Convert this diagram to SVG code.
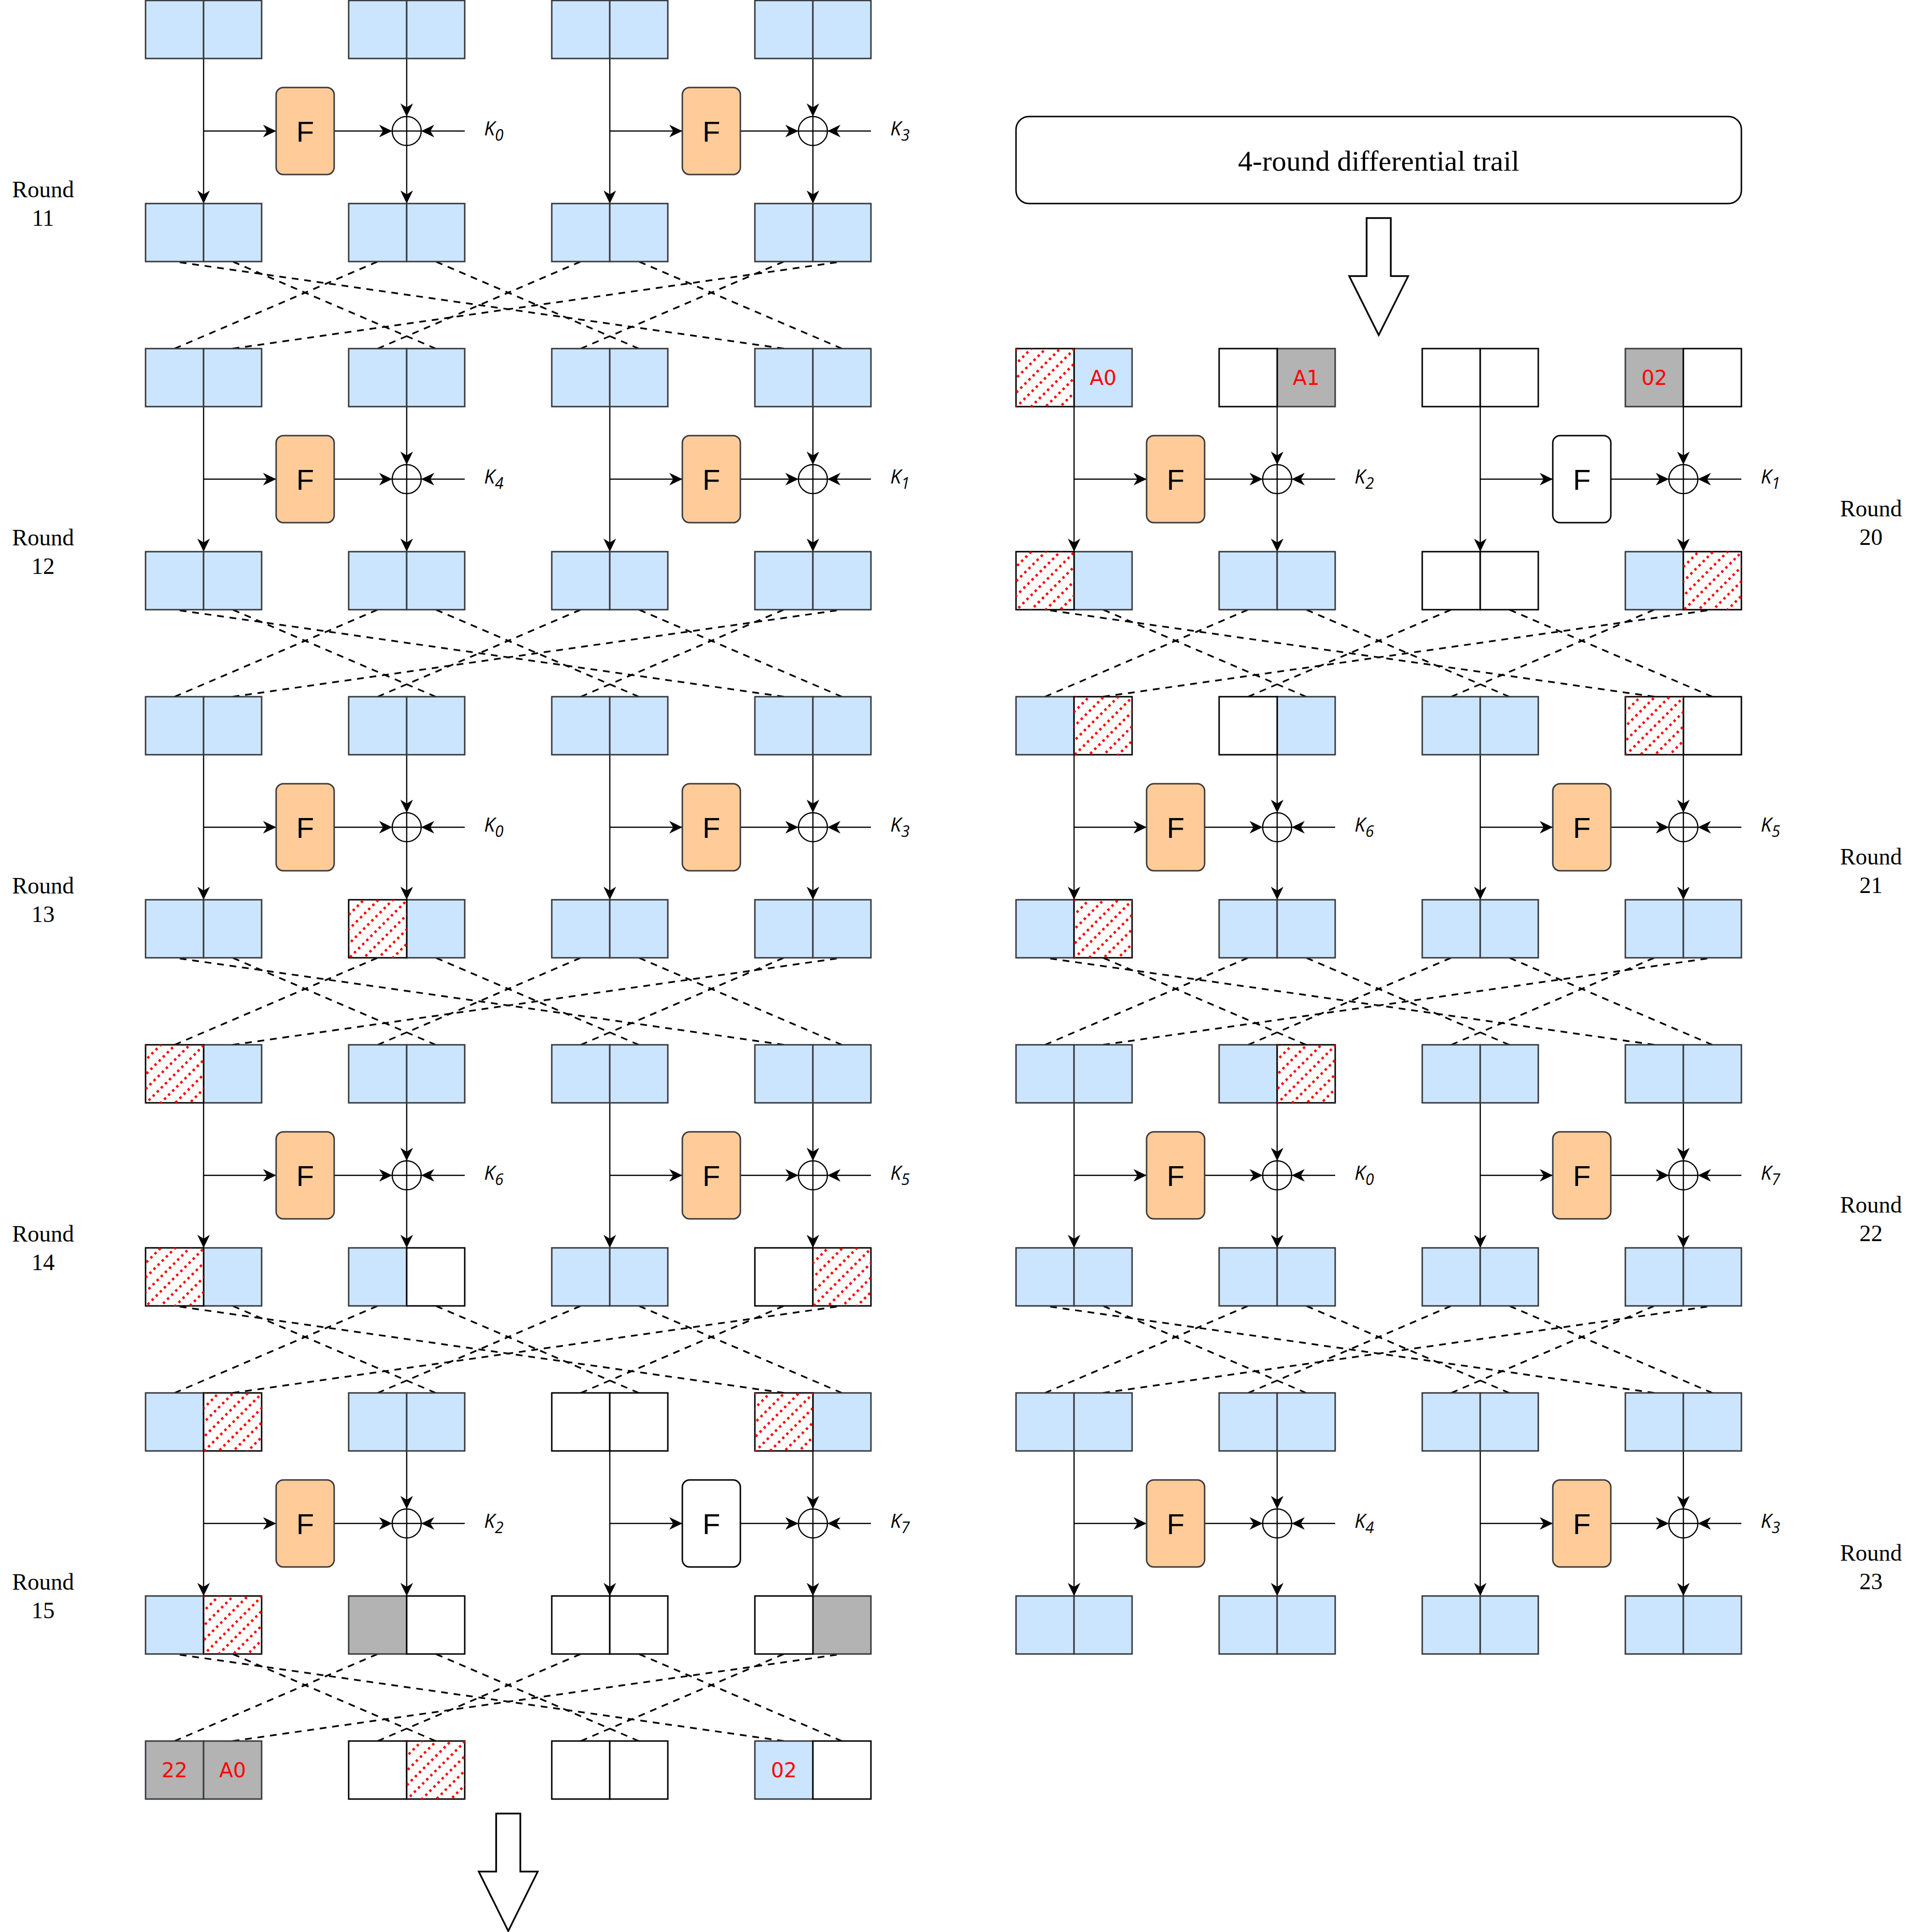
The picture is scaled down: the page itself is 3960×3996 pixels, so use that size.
<svg xmlns="http://www.w3.org/2000/svg" width="3960" height="3996" viewBox="0 0 3960 3996">
<style>
.b{fill:#cce5ff;stroke:#36393d;stroke-width:3}
.w{fill:#fff;stroke:#000;stroke-width:3}
.g{fill:#b3b3b3;stroke:#36393d;stroke-width:3}
.hp{fill:url(#hatch);stroke:none}
.fo{fill:#ffcc99;stroke:#36393d;stroke-width:3}
.fw{fill:#fff;stroke:#000;stroke-width:3}
.ft{font-family:"Liberation Sans",Arial,sans-serif;font-size:60px;text-anchor:middle;fill:#000}
.lbl{font-family:"DejaVu Sans",sans-serif;font-size:42px;fill:#ff0000;text-anchor:middle}
.k{font-family:"Open Sans","DejaVu Sans",sans-serif;font-style:italic;font-size:40px;fill:#000}
.s{font-size:32px}
.rl{font-family:"Liberation Serif","Times New Roman",serif;font-size:48px;text-anchor:middle;fill:#000}
.tt{font-family:"Liberation Serif","Times New Roman",serif;font-size:60px;text-anchor:middle;fill:#000}
.a{stroke:#000;stroke-width:2.5;fill:none;marker-end:url(#ah)}
.d{stroke:#000;stroke-width:3.5;stroke-dasharray:14 12;fill:none}
.x circle,.x path{fill:none;stroke:#000;stroke-width:2.5}
.big{fill:#fff;stroke:#000;stroke-width:3.5}
</style>
<defs>
<marker id="ah" viewBox="-28 -14 30 28" refX="0" refY="0" markerWidth="30" markerHeight="28" markerUnits="userSpaceOnUse" orient="auto"><path d="M0,0 L-27,-13 L-19,0 L-27,13 Z" fill="#000"/></marker>
<pattern id="hatch" patternUnits="userSpaceOnUse" width="12" height="21.213" patternTransform="rotate(-45)"><rect x="0" y="0" width="5" height="5" fill="#ff0000"/></pattern>
</defs>
<rect width="3960" height="3996" fill="#fff"/>

<g id="connectors">
<path class="a" d="M421 121V421"/><path class="a" d="M421 271H571"/><path class="a" d="M691 271H811"/><path class="a" d="M841 121V241"/><path class="a" d="M841 301V421"/><path class="a" d="M961 271H871"/>
<path class="a" d="M1261 121V421"/><path class="a" d="M1261 271H1411"/><path class="a" d="M1531 271H1651"/><path class="a" d="M1681 121V241"/><path class="a" d="M1681 301V421"/><path class="a" d="M1801 271H1711"/>
<path class="a" d="M421 841V1141"/><path class="a" d="M421 991H571"/><path class="a" d="M691 991H811"/><path class="a" d="M841 841V961"/><path class="a" d="M841 1021V1141"/><path class="a" d="M961 991H871"/>
<path class="a" d="M1261 841V1141"/><path class="a" d="M1261 991H1411"/><path class="a" d="M1531 991H1651"/><path class="a" d="M1681 841V961"/><path class="a" d="M1681 1021V1141"/><path class="a" d="M1801 991H1711"/>
<path class="a" d="M421 1561V1861"/><path class="a" d="M421 1711H571"/><path class="a" d="M691 1711H811"/><path class="a" d="M841 1561V1681"/><path class="a" d="M841 1741V1861"/><path class="a" d="M961 1711H871"/>
<path class="a" d="M1261 1561V1861"/><path class="a" d="M1261 1711H1411"/><path class="a" d="M1531 1711H1651"/><path class="a" d="M1681 1561V1681"/><path class="a" d="M1681 1741V1861"/><path class="a" d="M1801 1711H1711"/>
<path class="a" d="M421 2281V2581"/><path class="a" d="M421 2431H571"/><path class="a" d="M691 2431H811"/><path class="a" d="M841 2281V2401"/><path class="a" d="M841 2461V2581"/><path class="a" d="M961 2431H871"/>
<path class="a" d="M1261 2281V2581"/><path class="a" d="M1261 2431H1411"/><path class="a" d="M1531 2431H1651"/><path class="a" d="M1681 2281V2401"/><path class="a" d="M1681 2461V2581"/><path class="a" d="M1801 2431H1711"/>
<path class="a" d="M421 3001V3301"/><path class="a" d="M421 3151H571"/><path class="a" d="M691 3151H811"/><path class="a" d="M841 3001V3121"/><path class="a" d="M841 3181V3301"/><path class="a" d="M961 3151H871"/>
<path class="a" d="M1261 3001V3301"/><path class="a" d="M1261 3151H1411"/><path class="a" d="M1531 3151H1651"/><path class="a" d="M1681 3001V3121"/><path class="a" d="M1681 3181V3301"/><path class="a" d="M1801 3151H1711"/>
<path class="a" d="M2221 841V1141"/><path class="a" d="M2221 991H2371"/><path class="a" d="M2491 991H2611"/><path class="a" d="M2641 841V961"/><path class="a" d="M2641 1021V1141"/><path class="a" d="M2761 991H2671"/>
<path class="a" d="M3061 841V1141"/><path class="a" d="M3061 991H3211"/><path class="a" d="M3331 991H3451"/><path class="a" d="M3481 841V961"/><path class="a" d="M3481 1021V1141"/><path class="a" d="M3601 991H3511"/>
<path class="a" d="M2221 1561V1861"/><path class="a" d="M2221 1711H2371"/><path class="a" d="M2491 1711H2611"/><path class="a" d="M2641 1561V1681"/><path class="a" d="M2641 1741V1861"/><path class="a" d="M2761 1711H2671"/>
<path class="a" d="M3061 1561V1861"/><path class="a" d="M3061 1711H3211"/><path class="a" d="M3331 1711H3451"/><path class="a" d="M3481 1561V1681"/><path class="a" d="M3481 1741V1861"/><path class="a" d="M3601 1711H3511"/>
<path class="a" d="M2221 2281V2581"/><path class="a" d="M2221 2431H2371"/><path class="a" d="M2491 2431H2611"/><path class="a" d="M2641 2281V2401"/><path class="a" d="M2641 2461V2581"/><path class="a" d="M2761 2431H2671"/>
<path class="a" d="M3061 2281V2581"/><path class="a" d="M3061 2431H3211"/><path class="a" d="M3331 2431H3451"/><path class="a" d="M3481 2281V2401"/><path class="a" d="M3481 2461V2581"/><path class="a" d="M3601 2431H3511"/>
<path class="a" d="M2221 3001V3301"/><path class="a" d="M2221 3151H2371"/><path class="a" d="M2491 3151H2611"/><path class="a" d="M2641 3001V3121"/><path class="a" d="M2641 3181V3301"/><path class="a" d="M2761 3151H2671"/>
<path class="a" d="M3061 3001V3301"/><path class="a" d="M3061 3151H3211"/><path class="a" d="M3331 3151H3451"/><path class="a" d="M3481 3001V3121"/><path class="a" d="M3481 3181V3301"/><path class="a" d="M3601 3151H3511"/>

<path class="d" d="M1621 721L361 541"/><path class="d" d="M901 721L481 541"/><path class="d" d="M361 721L781 541"/><path class="d" d="M1321 721L901 541"/><path class="d" d="M781 721L1201 541"/><path class="d" d="M1741 721L1321 541"/><path class="d" d="M1201 721L1621 541"/><path class="d" d="M481 721L1741 541"/>
<path class="d" d="M1621 1441L361 1261"/><path class="d" d="M901 1441L481 1261"/><path class="d" d="M361 1441L781 1261"/><path class="d" d="M1321 1441L901 1261"/><path class="d" d="M781 1441L1201 1261"/><path class="d" d="M1741 1441L1321 1261"/><path class="d" d="M1201 1441L1621 1261"/><path class="d" d="M481 1441L1741 1261"/>
<path class="d" d="M1621 2161L361 1981"/><path class="d" d="M901 2161L481 1981"/><path class="d" d="M361 2161L781 1981"/><path class="d" d="M1321 2161L901 1981"/><path class="d" d="M781 2161L1201 1981"/><path class="d" d="M1741 2161L1321 1981"/><path class="d" d="M1201 2161L1621 1981"/><path class="d" d="M481 2161L1741 1981"/>
<path class="d" d="M1621 2881L361 2701"/><path class="d" d="M901 2881L481 2701"/><path class="d" d="M361 2881L781 2701"/><path class="d" d="M1321 2881L901 2701"/><path class="d" d="M781 2881L1201 2701"/><path class="d" d="M1741 2881L1321 2701"/><path class="d" d="M1201 2881L1621 2701"/><path class="d" d="M481 2881L1741 2701"/>
<path class="d" d="M1621 3601L361 3421"/><path class="d" d="M901 3601L481 3421"/><path class="d" d="M361 3601L781 3421"/><path class="d" d="M1321 3601L901 3421"/><path class="d" d="M781 3601L1201 3421"/><path class="d" d="M1741 3601L1321 3421"/><path class="d" d="M1201 3601L1621 3421"/><path class="d" d="M481 3601L1741 3421"/>
<path class="d" d="M3421 1441L2161 1261"/><path class="d" d="M2701 1441L2281 1261"/><path class="d" d="M2161 1441L2581 1261"/><path class="d" d="M3121 1441L2701 1261"/><path class="d" d="M2581 1441L3001 1261"/><path class="d" d="M3541 1441L3121 1261"/><path class="d" d="M3001 1441L3421 1261"/><path class="d" d="M2281 1441L3541 1261"/>
<path class="d" d="M3421 2161L2161 1981"/><path class="d" d="M2701 2161L2281 1981"/><path class="d" d="M2161 2161L2581 1981"/><path class="d" d="M3121 2161L2701 1981"/><path class="d" d="M2581 2161L3001 1981"/><path class="d" d="M3541 2161L3121 1981"/><path class="d" d="M3001 2161L3421 1981"/><path class="d" d="M2281 2161L3541 1981"/>
<path class="d" d="M3421 2881L2161 2701"/><path class="d" d="M2701 2881L2281 2701"/><path class="d" d="M2161 2881L2581 2701"/><path class="d" d="M3121 2881L2701 2701"/><path class="d" d="M2581 2881L3001 2701"/><path class="d" d="M3541 2881L3121 2701"/><path class="d" d="M3001 2881L3421 2701"/><path class="d" d="M2281 2881L3541 2701"/>
</g>

<g id="L0">
<g id="L0b1"><rect class="b" x="301" y="1" width="120" height="120"/><rect class="b" x="421" y="1" width="120" height="120"/></g>
<g id="L0b2"><rect class="b" x="721" y="1" width="120" height="120"/><rect class="b" x="841" y="1" width="120" height="120"/></g>
<g id="L0b3"><rect class="b" x="1141" y="1" width="120" height="120"/><rect class="b" x="1261" y="1" width="120" height="120"/></g>
<g id="L0b4"><rect class="b" x="1561" y="1" width="120" height="120"/><rect class="b" x="1681" y="1" width="120" height="120"/></g>
</g>
<g id="L1">
<g id="L1b1"><rect class="b" x="301" y="421" width="120" height="120"/><rect class="b" x="421" y="421" width="120" height="120"/></g>
<g id="L1b2"><rect class="b" x="721" y="421" width="120" height="120"/><rect class="b" x="841" y="421" width="120" height="120"/></g>
<g id="L1b3"><rect class="b" x="1141" y="421" width="120" height="120"/><rect class="b" x="1261" y="421" width="120" height="120"/></g>
<g id="L1b4"><rect class="b" x="1561" y="421" width="120" height="120"/><rect class="b" x="1681" y="421" width="120" height="120"/></g>
</g>
<g id="L2">
<g id="L2b1"><rect class="b" x="301" y="721" width="120" height="120"/><rect class="b" x="421" y="721" width="120" height="120"/></g>
<g id="L2b2"><rect class="b" x="721" y="721" width="120" height="120"/><rect class="b" x="841" y="721" width="120" height="120"/></g>
<g id="L2b3"><rect class="b" x="1141" y="721" width="120" height="120"/><rect class="b" x="1261" y="721" width="120" height="120"/></g>
<g id="L2b4"><rect class="b" x="1561" y="721" width="120" height="120"/><rect class="b" x="1681" y="721" width="120" height="120"/></g>
</g>
<g id="L3">
<g id="L3b1"><rect class="b" x="301" y="1141" width="120" height="120"/><rect class="b" x="421" y="1141" width="120" height="120"/></g>
<g id="L3b2"><rect class="b" x="721" y="1141" width="120" height="120"/><rect class="b" x="841" y="1141" width="120" height="120"/></g>
<g id="L3b3"><rect class="b" x="1141" y="1141" width="120" height="120"/><rect class="b" x="1261" y="1141" width="120" height="120"/></g>
<g id="L3b4"><rect class="b" x="1561" y="1141" width="120" height="120"/><rect class="b" x="1681" y="1141" width="120" height="120"/></g>
</g>
<g id="L4">
<g id="L4b1"><rect class="b" x="301" y="1441" width="120" height="120"/><rect class="b" x="421" y="1441" width="120" height="120"/></g>
<g id="L4b2"><rect class="b" x="721" y="1441" width="120" height="120"/><rect class="b" x="841" y="1441" width="120" height="120"/></g>
<g id="L4b3"><rect class="b" x="1141" y="1441" width="120" height="120"/><rect class="b" x="1261" y="1441" width="120" height="120"/></g>
<g id="L4b4"><rect class="b" x="1561" y="1441" width="120" height="120"/><rect class="b" x="1681" y="1441" width="120" height="120"/></g>
</g>
<g id="L5">
<g id="L5b1"><rect class="b" x="301" y="1861" width="120" height="120"/><rect class="b" x="421" y="1861" width="120" height="120"/></g>
<g id="L5b2"><rect class="b" x="841" y="1861" width="120" height="120"/><rect class="w" x="721" y="1861" width="120" height="120"/><rect class="hp" x="721" y="1861" width="120" height="120"/></g>
<g id="L5b3"><rect class="b" x="1141" y="1861" width="120" height="120"/><rect class="b" x="1261" y="1861" width="120" height="120"/></g>
<g id="L5b4"><rect class="b" x="1561" y="1861" width="120" height="120"/><rect class="b" x="1681" y="1861" width="120" height="120"/></g>
</g>
<g id="L6">
<g id="L6b1"><rect class="b" x="421" y="2161" width="120" height="120"/><rect class="w" x="301" y="2161" width="120" height="120"/><rect class="hp" x="301" y="2161" width="120" height="120"/></g>
<g id="L6b2"><rect class="b" x="721" y="2161" width="120" height="120"/><rect class="b" x="841" y="2161" width="120" height="120"/></g>
<g id="L6b3"><rect class="b" x="1141" y="2161" width="120" height="120"/><rect class="b" x="1261" y="2161" width="120" height="120"/></g>
<g id="L6b4"><rect class="b" x="1561" y="2161" width="120" height="120"/><rect class="b" x="1681" y="2161" width="120" height="120"/></g>
</g>
<g id="L7">
<g id="L7b1"><rect class="b" x="421" y="2581" width="120" height="120"/><rect class="w" x="301" y="2581" width="120" height="120"/><rect class="hp" x="301" y="2581" width="120" height="120"/></g>
<g id="L7b2"><rect class="b" x="721" y="2581" width="120" height="120"/><rect class="w" x="841" y="2581" width="120" height="120"/></g>
<g id="L7b3"><rect class="b" x="1141" y="2581" width="120" height="120"/><rect class="b" x="1261" y="2581" width="120" height="120"/></g>
<g id="L7b4"><rect class="w" x="1561" y="2581" width="120" height="120"/><rect class="w" x="1681" y="2581" width="120" height="120"/><rect class="hp" x="1681" y="2581" width="120" height="120"/></g>
</g>
<g id="L8">
<g id="L8b1"><rect class="b" x="301" y="2881" width="120" height="120"/><rect class="w" x="421" y="2881" width="120" height="120"/><rect class="hp" x="421" y="2881" width="120" height="120"/></g>
<g id="L8b2"><rect class="b" x="721" y="2881" width="120" height="120"/><rect class="b" x="841" y="2881" width="120" height="120"/></g>
<g id="L8b3"><rect class="w" x="1141" y="2881" width="120" height="120"/><rect class="w" x="1261" y="2881" width="120" height="120"/></g>
<g id="L8b4"><rect class="b" x="1681" y="2881" width="120" height="120"/><rect class="w" x="1561" y="2881" width="120" height="120"/><rect class="hp" x="1561" y="2881" width="120" height="120"/></g>
</g>
<g id="L9">
<g id="L9b1"><rect class="b" x="301" y="3301" width="120" height="120"/><rect class="w" x="421" y="3301" width="120" height="120"/><rect class="hp" x="421" y="3301" width="120" height="120"/></g>
<g id="L9b2"><rect class="g" x="721" y="3301" width="120" height="120"/><rect class="w" x="841" y="3301" width="120" height="120"/></g>
<g id="L9b3"><rect class="w" x="1141" y="3301" width="120" height="120"/><rect class="w" x="1261" y="3301" width="120" height="120"/></g>
<g id="L9b4"><rect class="g" x="1681" y="3301" width="120" height="120"/><rect class="w" x="1561" y="3301" width="120" height="120"/></g>
</g>
<g id="L10">
<g id="L10b1"><rect class="g" x="301" y="3601" width="120" height="120"/><rect class="g" x="421" y="3601" width="120" height="120"/><text class="lbl" x="361" y="3676">22</text><text class="lbl" x="481" y="3676">A0</text></g>
<g id="L10b2"><rect class="w" x="721" y="3601" width="120" height="120"/><rect class="w" x="841" y="3601" width="120" height="120"/><rect class="hp" x="841" y="3601" width="120" height="120"/></g>
<g id="L10b3"><rect class="w" x="1141" y="3601" width="120" height="120"/><rect class="w" x="1261" y="3601" width="120" height="120"/></g>
<g id="L10b4"><rect class="b" x="1561" y="3601" width="120" height="120"/><rect class="w" x="1681" y="3601" width="120" height="120"/><text class="lbl" x="1621" y="3676">02</text></g>
</g>

<g id="R2">
<g id="R2b1"><rect class="b" x="2221" y="721" width="120" height="120"/><rect class="w" x="2101" y="721" width="120" height="120"/><rect class="hp" x="2101" y="721" width="120" height="120"/><text class="lbl" x="2281" y="796">A0</text></g>
<g id="R2b2"><rect class="g" x="2641" y="721" width="120" height="120"/><rect class="w" x="2521" y="721" width="120" height="120"/><text class="lbl" x="2701" y="796">A1</text></g>
<g id="R2b3"><rect class="w" x="2941" y="721" width="120" height="120"/><rect class="w" x="3061" y="721" width="120" height="120"/></g>
<g id="R2b4"><rect class="g" x="3361" y="721" width="120" height="120"/><rect class="w" x="3481" y="721" width="120" height="120"/><text class="lbl" x="3421" y="796">02</text></g>
</g>
<g id="R3">
<g id="R3b1"><rect class="b" x="2221" y="1141" width="120" height="120"/><rect class="w" x="2101" y="1141" width="120" height="120"/><rect class="hp" x="2101" y="1141" width="120" height="120"/></g>
<g id="R3b2"><rect class="b" x="2521" y="1141" width="120" height="120"/><rect class="b" x="2641" y="1141" width="120" height="120"/></g>
<g id="R3b3"><rect class="w" x="2941" y="1141" width="120" height="120"/><rect class="w" x="3061" y="1141" width="120" height="120"/></g>
<g id="R3b4"><rect class="b" x="3361" y="1141" width="120" height="120"/><rect class="w" x="3481" y="1141" width="120" height="120"/><rect class="hp" x="3481" y="1141" width="120" height="120"/></g>
</g>
<g id="R4">
<g id="R4b1"><rect class="b" x="2101" y="1441" width="120" height="120"/><rect class="w" x="2221" y="1441" width="120" height="120"/><rect class="hp" x="2221" y="1441" width="120" height="120"/></g>
<g id="R4b2"><rect class="b" x="2641" y="1441" width="120" height="120"/><rect class="w" x="2521" y="1441" width="120" height="120"/></g>
<g id="R4b3"><rect class="b" x="2941" y="1441" width="120" height="120"/><rect class="b" x="3061" y="1441" width="120" height="120"/></g>
<g id="R4b4"><rect class="w" x="3481" y="1441" width="120" height="120"/><rect class="w" x="3361" y="1441" width="120" height="120"/><rect class="hp" x="3361" y="1441" width="120" height="120"/></g>
</g>
<g id="R5">
<g id="R5b1"><rect class="b" x="2101" y="1861" width="120" height="120"/><rect class="w" x="2221" y="1861" width="120" height="120"/><rect class="hp" x="2221" y="1861" width="120" height="120"/></g>
<g id="R5b2"><rect class="b" x="2521" y="1861" width="120" height="120"/><rect class="b" x="2641" y="1861" width="120" height="120"/></g>
<g id="R5b3"><rect class="b" x="2941" y="1861" width="120" height="120"/><rect class="b" x="3061" y="1861" width="120" height="120"/></g>
<g id="R5b4"><rect class="b" x="3361" y="1861" width="120" height="120"/><rect class="b" x="3481" y="1861" width="120" height="120"/></g>
</g>
<g id="R6">
<g id="R6b1"><rect class="b" x="2101" y="2161" width="120" height="120"/><rect class="b" x="2221" y="2161" width="120" height="120"/></g>
<g id="R6b2"><rect class="b" x="2521" y="2161" width="120" height="120"/><rect class="w" x="2641" y="2161" width="120" height="120"/><rect class="hp" x="2641" y="2161" width="120" height="120"/></g>
<g id="R6b3"><rect class="b" x="2941" y="2161" width="120" height="120"/><rect class="b" x="3061" y="2161" width="120" height="120"/></g>
<g id="R6b4"><rect class="b" x="3361" y="2161" width="120" height="120"/><rect class="b" x="3481" y="2161" width="120" height="120"/></g>
</g>
<g id="R7">
<g id="R7b1"><rect class="b" x="2101" y="2581" width="120" height="120"/><rect class="b" x="2221" y="2581" width="120" height="120"/></g>
<g id="R7b2"><rect class="b" x="2521" y="2581" width="120" height="120"/><rect class="b" x="2641" y="2581" width="120" height="120"/></g>
<g id="R7b3"><rect class="b" x="2941" y="2581" width="120" height="120"/><rect class="b" x="3061" y="2581" width="120" height="120"/></g>
<g id="R7b4"><rect class="b" x="3361" y="2581" width="120" height="120"/><rect class="b" x="3481" y="2581" width="120" height="120"/></g>
</g>
<g id="R8">
<g id="R8b1"><rect class="b" x="2101" y="2881" width="120" height="120"/><rect class="b" x="2221" y="2881" width="120" height="120"/></g>
<g id="R8b2"><rect class="b" x="2521" y="2881" width="120" height="120"/><rect class="b" x="2641" y="2881" width="120" height="120"/></g>
<g id="R8b3"><rect class="b" x="2941" y="2881" width="120" height="120"/><rect class="b" x="3061" y="2881" width="120" height="120"/></g>
<g id="R8b4"><rect class="b" x="3361" y="2881" width="120" height="120"/><rect class="b" x="3481" y="2881" width="120" height="120"/></g>
</g>
<g id="R9">
<g id="R9b1"><rect class="b" x="2101" y="3301" width="120" height="120"/><rect class="b" x="2221" y="3301" width="120" height="120"/></g>
<g id="R9b2"><rect class="b" x="2521" y="3301" width="120" height="120"/><rect class="b" x="2641" y="3301" width="120" height="120"/></g>
<g id="R9b3"><rect class="b" x="2941" y="3301" width="120" height="120"/><rect class="b" x="3061" y="3301" width="120" height="120"/></g>
<g id="R9b4"><rect class="b" x="3361" y="3301" width="120" height="120"/><rect class="b" x="3481" y="3301" width="120" height="120"/></g>
</g>

<g id="F11a"><rect class="fo" x="571" y="181" width="120" height="180" rx="15"/><text class="ft" x="631" y="293">F</text></g>
<g id="F11b"><rect class="fo" x="1411" y="181" width="120" height="180" rx="15"/><text class="ft" x="1471" y="293">F</text></g>
<g id="F12a"><rect class="fo" x="571" y="901" width="120" height="180" rx="15"/><text class="ft" x="631" y="1013">F</text></g>
<g id="F12b"><rect class="fo" x="1411" y="901" width="120" height="180" rx="15"/><text class="ft" x="1471" y="1013">F</text></g>
<g id="F13a"><rect class="fo" x="571" y="1621" width="120" height="180" rx="15"/><text class="ft" x="631" y="1733">F</text></g>
<g id="F13b"><rect class="fo" x="1411" y="1621" width="120" height="180" rx="15"/><text class="ft" x="1471" y="1733">F</text></g>
<g id="F14a"><rect class="fo" x="571" y="2341" width="120" height="180" rx="15"/><text class="ft" x="631" y="2453">F</text></g>
<g id="F14b"><rect class="fo" x="1411" y="2341" width="120" height="180" rx="15"/><text class="ft" x="1471" y="2453">F</text></g>
<g id="F15a"><rect class="fo" x="571" y="3061" width="120" height="180" rx="15"/><text class="ft" x="631" y="3173">F</text></g>
<g id="F15b"><rect class="fw" x="1411" y="3061" width="120" height="180" rx="15"/><text class="ft" x="1471" y="3173">F</text></g>
<g id="F20a"><rect class="fo" x="2371" y="901" width="120" height="180" rx="15"/><text class="ft" x="2431" y="1013">F</text></g>
<g id="F20b"><rect class="fw" x="3211" y="901" width="120" height="180" rx="15"/><text class="ft" x="3271" y="1013">F</text></g>
<g id="F21a"><rect class="fo" x="2371" y="1621" width="120" height="180" rx="15"/><text class="ft" x="2431" y="1733">F</text></g>
<g id="F21b"><rect class="fo" x="3211" y="1621" width="120" height="180" rx="15"/><text class="ft" x="3271" y="1733">F</text></g>
<g id="F22a"><rect class="fo" x="2371" y="2341" width="120" height="180" rx="15"/><text class="ft" x="2431" y="2453">F</text></g>
<g id="F22b"><rect class="fo" x="3211" y="2341" width="120" height="180" rx="15"/><text class="ft" x="3271" y="2453">F</text></g>
<g id="F23a"><rect class="fo" x="2371" y="3061" width="120" height="180" rx="15"/><text class="ft" x="2431" y="3173">F</text></g>
<g id="F23b"><rect class="fo" x="3211" y="3061" width="120" height="180" rx="15"/><text class="ft" x="3271" y="3173">F</text></g>

<g id="X11a" class="x"><circle cx="841" cy="271" r="30"/><path d="M811 271H871M841 241V301"/></g>
<g id="X11b" class="x"><circle cx="1681" cy="271" r="30"/><path d="M1651 271H1711M1681 241V301"/></g>
<g id="X12a" class="x"><circle cx="841" cy="991" r="30"/><path d="M811 991H871M841 961V1021"/></g>
<g id="X12b" class="x"><circle cx="1681" cy="991" r="30"/><path d="M1651 991H1711M1681 961V1021"/></g>
<g id="X13a" class="x"><circle cx="841" cy="1711" r="30"/><path d="M811 1711H871M841 1681V1741"/></g>
<g id="X13b" class="x"><circle cx="1681" cy="1711" r="30"/><path d="M1651 1711H1711M1681 1681V1741"/></g>
<g id="X14a" class="x"><circle cx="841" cy="2431" r="30"/><path d="M811 2431H871M841 2401V2461"/></g>
<g id="X14b" class="x"><circle cx="1681" cy="2431" r="30"/><path d="M1651 2431H1711M1681 2401V2461"/></g>
<g id="X15a" class="x"><circle cx="841" cy="3151" r="30"/><path d="M811 3151H871M841 3121V3181"/></g>
<g id="X15b" class="x"><circle cx="1681" cy="3151" r="30"/><path d="M1651 3151H1711M1681 3121V3181"/></g>
<g id="X20a" class="x"><circle cx="2641" cy="991" r="30"/><path d="M2611 991H2671M2641 961V1021"/></g>
<g id="X20b" class="x"><circle cx="3481" cy="991" r="30"/><path d="M3451 991H3511M3481 961V1021"/></g>
<g id="X21a" class="x"><circle cx="2641" cy="1711" r="30"/><path d="M2611 1711H2671M2641 1681V1741"/></g>
<g id="X21b" class="x"><circle cx="3481" cy="1711" r="30"/><path d="M3451 1711H3511M3481 1681V1741"/></g>
<g id="X22a" class="x"><circle cx="2641" cy="2431" r="30"/><path d="M2611 2431H2671M2641 2401V2461"/></g>
<g id="X22b" class="x"><circle cx="3481" cy="2431" r="30"/><path d="M3451 2431H3511M3481 2401V2461"/></g>
<g id="X23a" class="x"><circle cx="2641" cy="3151" r="30"/><path d="M2611 3151H2671M2641 3121V3181"/></g>
<g id="X23b" class="x"><circle cx="3481" cy="3151" r="30"/><path d="M3451 3151H3511M3481 3121V3181"/></g>

<g id="keys">
<text class="k" x="1001" y="280">K<tspan class="s" dy="11">0</tspan></text>
<text class="k" x="1841" y="280">K<tspan class="s" dy="11">3</tspan></text>
<text class="k" x="1001" y="1000">K<tspan class="s" dy="11">4</tspan></text>
<text class="k" x="1841" y="1000">K<tspan class="s" dy="11">1</tspan></text>
<text class="k" x="1001" y="1720">K<tspan class="s" dy="11">0</tspan></text>
<text class="k" x="1841" y="1720">K<tspan class="s" dy="11">3</tspan></text>
<text class="k" x="1001" y="2440">K<tspan class="s" dy="11">6</tspan></text>
<text class="k" x="1841" y="2440">K<tspan class="s" dy="11">5</tspan></text>
<text class="k" x="1001" y="3160">K<tspan class="s" dy="11">2</tspan></text>
<text class="k" x="1841" y="3160">K<tspan class="s" dy="11">7</tspan></text>
<text class="k" x="2801" y="1000">K<tspan class="s" dy="11">2</tspan></text>
<text class="k" x="3641" y="1000">K<tspan class="s" dy="11">1</tspan></text>
<text class="k" x="2801" y="1720">K<tspan class="s" dy="11">6</tspan></text>
<text class="k" x="3641" y="1720">K<tspan class="s" dy="11">5</tspan></text>
<text class="k" x="2801" y="2440">K<tspan class="s" dy="11">0</tspan></text>
<text class="k" x="3641" y="2440">K<tspan class="s" dy="11">7</tspan></text>
<text class="k" x="2801" y="3160">K<tspan class="s" dy="11">4</tspan></text>
<text class="k" x="3641" y="3160">K<tspan class="s" dy="11">3</tspan></text>
</g>

<g id="round11"><text class="rl" x="89" y="408">Round</text><text class="rl" x="89" y="467">11</text></g>
<g id="round12"><text class="rl" x="89" y="1128">Round</text><text class="rl" x="89" y="1187">12</text></g>
<g id="round13"><text class="rl" x="89" y="1848">Round</text><text class="rl" x="89" y="1907">13</text></g>
<g id="round14"><text class="rl" x="89" y="2568">Round</text><text class="rl" x="89" y="2627">14</text></g>
<g id="round15"><text class="rl" x="89" y="3288">Round</text><text class="rl" x="89" y="3347">15</text></g>
<g id="round20"><text class="rl" x="3869" y="1068">Round</text><text class="rl" x="3869" y="1127">20</text></g>
<g id="round21"><text class="rl" x="3869" y="1788">Round</text><text class="rl" x="3869" y="1847">21</text></g>
<g id="round22"><text class="rl" x="3869" y="2508">Round</text><text class="rl" x="3869" y="2567">22</text></g>
<g id="round23"><text class="rl" x="3869" y="3228">Round</text><text class="rl" x="3869" y="3287">23</text></g>

<g id="trail"><rect x="2101" y="241" width="1500" height="180" rx="27" fill="#fff" stroke="#000" stroke-width="3"/><text class="tt" x="2851" y="353">4-round differential trail</text></g>
<g id="arrowTop"><path class="big" d="M2826 451H2876V571H2912L2851 693L2790 571H2826Z"/></g>
<g id="arrowBottom"><path class="big" d="M1026 3751H1076V3871H1112L1051 3994L990 3871H1026Z"/></g>
</svg>
